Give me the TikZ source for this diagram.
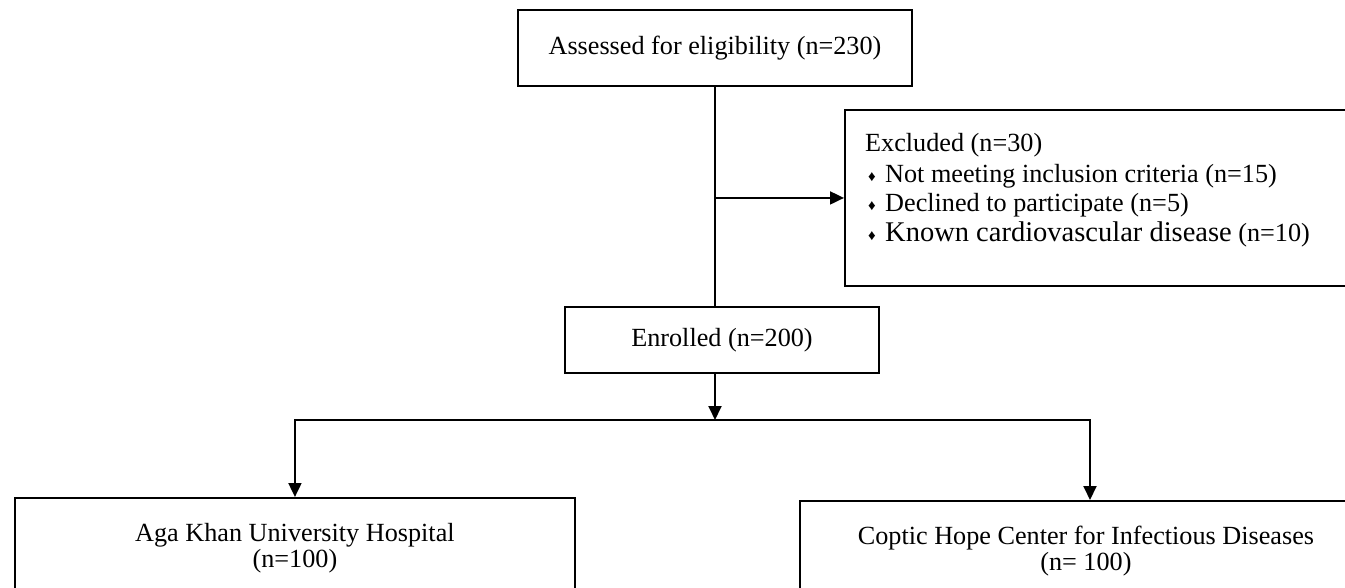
\documentclass[tikz,border=0pt]{standalone}
\usepackage{fontspec}
\setmainfont{Liberation Serif}
\usetikzlibrary{arrows.meta,calc}
\newcommand{\basefont}{\fontsize{26.2}{26}\selectfont}
\newcommand{\bigfont}{\fontsize{28.5}{30}\selectfont}
\newcommand{\bulfont}{\fontsize{15}{15}\selectfont}
\tikzset{
  box/.style={draw=black, line width=1.9pt, rectangle, inner sep=0pt, font=\basefont},
  conn/.style={draw=black, line width=1.9pt},
  arr/.style={conn, -{Triangle[length=14pt,width=13pt]}},
  txt/.style={inner sep=0pt, font=\basefont},
}
\begin{document}
\begin{tikzpicture}[x=1pt,y=-1pt]
\useasboundingbox (0,0) rectangle (1345,588);
\fill[white] (0,0) rectangle (1345,588);
\clip (0,0) rectangle (1345,588);
% boxes
\node[box, minimum width=394, minimum height=76] (assess) at (715,48) {Assessed for eligibility (n=230)};
\node[box, minimum width=314, minimum height=66] (enr) at (722,340) {Enrolled (n=200)};
\node[box, anchor=north west, minimum width=540, minimum height=176] (excl) at (844,109) {};
\node[box, anchor=north west, minimum width=560, minimum height=100, align=center] (akuh) at (14,497) {Aga Khan University Hospital\\(n=100)};
\node[box, anchor=north west, minimum width=572, minimum height=100, align=center] (chcid) at (799,500) {Coptic Hope Center for Infectious Diseases\\(n= 100)};
% excluded text
\node[txt, anchor=base west] (ex0) at (865,152) {Excluded (n=30)};
\node[txt, anchor=base, font=\bulfont] (b1) at (872,182) {♦};
\node[txt, anchor=base west] (ex1) at (885,183) {Not meeting inclusion criteria (n=15)};
\node[txt, anchor=base, font=\bulfont] (b2) at (872,211) {♦};
\node[txt, anchor=base west] (ex2) at (885,212) {Declined to participate (n=5)};
\node[txt, anchor=base, font=\bulfont] (b3) at (872,241) {♦};
\node[txt, anchor=base west] (ex3) at (885,242) {{\bigfont Known cardiovascular disease} (n=10)};
% connectors
\coordinate (split) at (715,420);
\coordinate (chin) at (1090,500);
\draw[conn] (assess.south) -- (assess.south |- enr.north);
\draw[arr] (assess.south |- excl.west) -- (excl.west);
\draw[arr] (assess.south |- enr.south) -- (split);
\draw[arr] (split) -| (akuh.north);
\draw[arr] (split) -| (chin);
\end{tikzpicture}
\end{document}
